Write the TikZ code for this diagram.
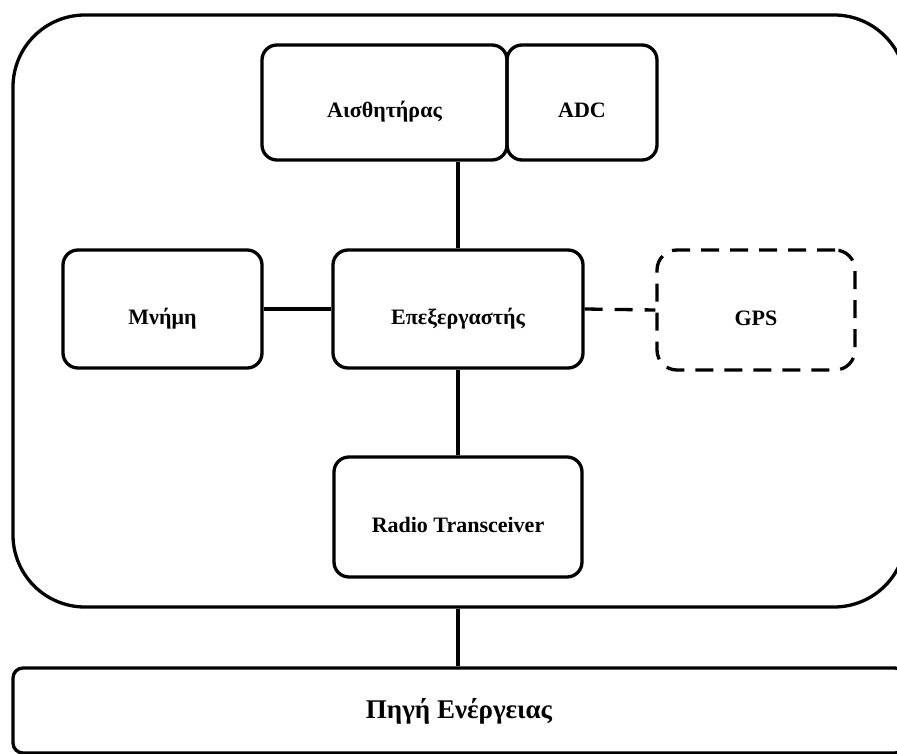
\documentclass[tikz,border=0pt]{standalone}
\usepackage{fontspec}
\setmainfont{Liberation Serif}
\begin{document}
\begin{tikzpicture}[x=1pt, y=-1pt,
  unit/.style={draw, line width=3.3pt, rounded corners=15pt, inner sep=0pt,
    font=\fontsize{22}{26}\selectfont\bfseries, text height=31pt, text depth=0pt},
  optunit/.style={unit, rounded corners=20pt, dash pattern=on 18pt off 11pt},
  conn/.style={line width=3.3pt},
  optconn/.style={conn, dash pattern=on 18pt off 12pt},
  board/.style={draw, line width=3.3pt, rounded corners=72pt, inner sep=0pt},
  supply/.style={draw, line width=3.3pt, rounded corners=10pt, inner sep=0pt,
    font=\fontsize{27}{32}\selectfont\bfseries, text height=15pt, text depth=0pt}]
  \clip (0,0) rectangle (897,754);
  \useasboundingbox (0,0) rectangle (897,754);

  % sensor node enclosure
  \node[board, minimum width=893pt, minimum height=592pt] (node) at (459.5,311) {};

  % sensing part
  \node[unit, minimum width=245pt, minimum height=115pt] (sens) at (384.5,102.5) {Αισθητήρας};
  \node[unit, minimum width=150pt, minimum height=115pt] (adc) at (582,102.5) {ADC};

  % processing part
  \node[unit, minimum width=199pt, minimum height=118pt] (mem) at (162.5,309) {Μνήμη};
  \node[unit, minimum width=250pt, minimum height=118pt] (proc) at (458,309) {Επεξεργαστής};
  \node[optunit, minimum width=198pt, minimum height=120pt] (gps) at (756,310) {GPS};

  % communication part
  \node[unit, minimum width=248pt, minimum height=120pt] (radio) at (458,517) {Radio Transceiver};

  % power supply
  \node[supply, minimum width=892pt, minimum height=85pt] (power) at (459,710.5) {Πηγή Ενέργειας};

  % connections
  \draw[conn] (proc.north) -- (proc.north |- sens.south);
  \draw[conn] (mem.east) -- (proc.west);
  \draw[optconn] (proc.east) -- (gps.west);
  \draw[conn] (proc.south) -- (radio.north);
  \draw[conn] (proc.south |- node.south) -- (proc.south |- power.north);
\end{tikzpicture}
\end{document}
